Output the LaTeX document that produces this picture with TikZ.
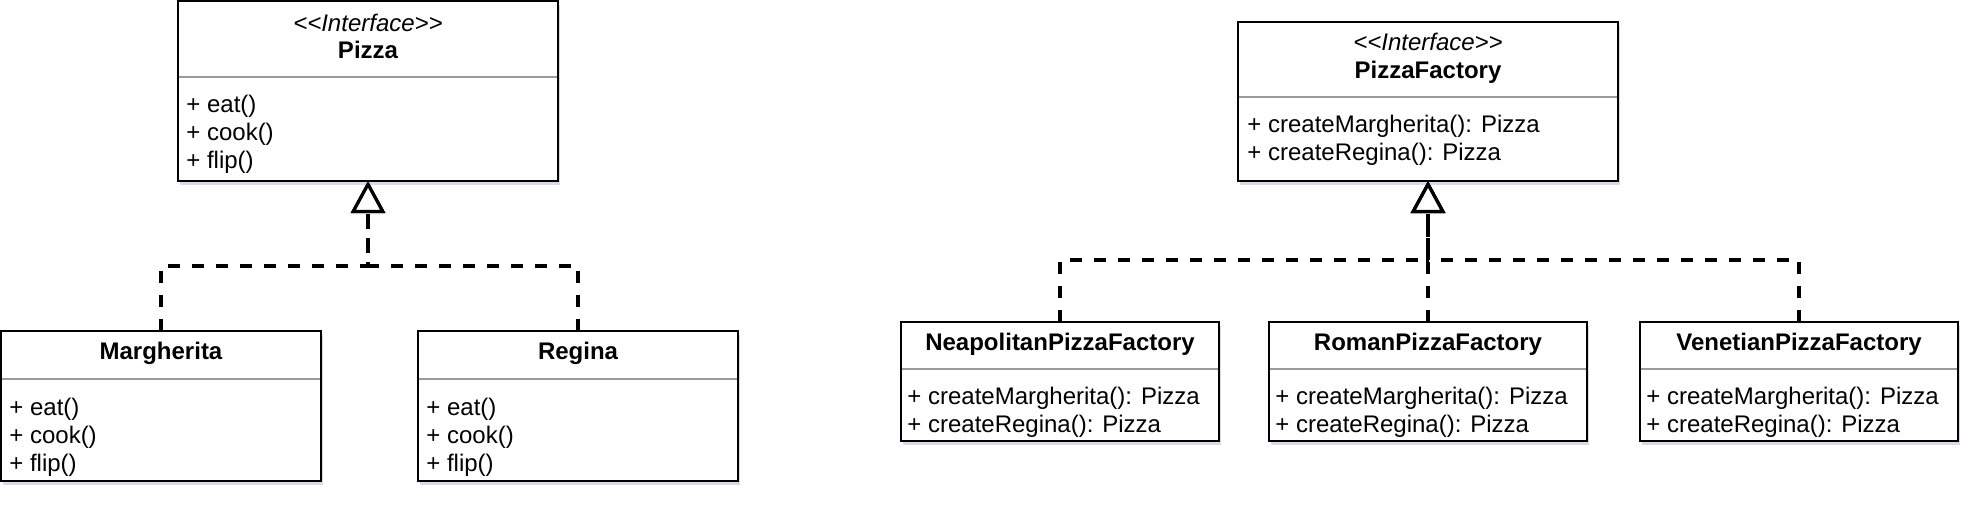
\documentclass[tikz,border=0pt]{standalone}
\usepackage{fontspec}
\newfontfamily\umlfont{Liberation Sans}
\usetikzlibrary{arrows.meta,shadows}
\definecolor{dividergray}{HTML}{9A9A9A}
\definecolor{shadowblue}{HTML}{8D97BD}

\begin{document}
\begin{tikzpicture}[
  x=0.5pt,
  y=-0.5pt,
  font=\umlfont\fontsize{12pt}{14pt}\selectfont,
  classbox/.style={draw=black,fill=white,line width=1.4pt,inner sep=0pt,outer sep=0pt,
    drop shadow={shadow xshift=1.2pt,shadow yshift=-2pt,fill=shadowblue,opacity=0.35}},
  divider/.style={draw=dividergray,line width=0.9pt,shorten <=0.7pt,shorten >=0.7pt},
  stereotype/.style={anchor=base,inner sep=0pt,font=\umlfont\fontsize{12pt}{14pt}\selectfont\itshape},
  classname/.style={anchor=base,inner sep=0pt,font=\umlfont\fontsize{12pt}{14pt}\selectfont\bfseries},
  member/.style={anchor=base west,inner sep=0pt},
  realize/.style={draw=black,line width=1.6pt,dash pattern=on 6pt off 6pt,
    -{Triangle[open,fill=white,length=16pt,width=17pt]}}
]
  % Page frame in reference pixels (1 px = 0.5 pt, y grows downwards).
  \useasboundingbox (0,0) rectangle (1984,504);

  % Product interface.
  \node[classbox,minimum width=190pt,minimum height=90pt] (pizza) at (368,91) {};
  \draw[divider] (pizza.west |- 0,77) -- (pizza.east |- 0,77);
  \node[stereotype] (pizza-stereo) at (368,31) {<<Interface>>};
  \node[classname] (pizza-name) at (368,58) {Pizza};
  \foreach \m [count=\i] in {eat,cook,flip}
    \node[member] (pizza-\m) at (186,{84+28*\i}) {+ \m()};
  \coordinate (pizzabus) at (368,266);

  % Concrete products realize the interface.
  \foreach \id/\name/\cx in {margherita/Margherita/161,regina/Regina/578} {
    \node[classbox,minimum width=160pt,minimum height=75pt] (\id) at (\cx,406) {};
    \draw[divider] (\id.west |- 0,379) -- (\id.east |- 0,379);
    \node[classname] (\id-name) at (\cx,359) {\name};
    \foreach \m [count=\i] in {eat,cook,flip}
      \node[member] (\id-\m) at ({\cx-152},{387+28*\i}) {+ \m()};
    \draw[realize] (\id.north) |- (pizzabus) -- (pizza.south);
  }

  % Factory interface.
  \node[classbox,minimum width=190pt,minimum height=79.5pt] (pizzafactory) at (1428,101.5) {};
  \draw[divider] (pizzafactory.west |- 0,97) -- (pizzafactory.east |- 0,97);
  \node[stereotype] (pizzafactory-stereo) at (1428,50) {<<Interface>>};
  \node[classname] (pizzafactory-name) at (1428,78) {PizzaFactory};
  \foreach \m [count=\i] in {Margherita,Regina}
    \node[member] (pizzafactory-\m) at (1247,{104+28*\i}) {+ create\m(): Pizza};
  \coordinate (factorybus) at (1428,260);

  % Concrete factories realize the factory interface.
  \foreach \id/\name/\cx in {neapolitan/Neapolitan/1060,roman/Roman/1428,venetian/Venetian/1799} {
    \node[classbox,minimum width=159pt,minimum height=59.5pt] (\id) at (\cx,381.5) {};
    \draw[divider] (\id.west |- 0,369) -- (\id.east |- 0,369);
    \node[classname] (\id-name) at (\cx,350) {\name PizzaFactory};
    \foreach \m [count=\i] in {Margherita,Regina}
      \node[member] (\id-\m) at ({\cx-153},{376+28*\i}) {+ create\m(): Pizza};
    \draw[realize] (\id.north) |- (factorybus) -- (pizzafactory.south);
  }
\end{tikzpicture}
\end{document}
